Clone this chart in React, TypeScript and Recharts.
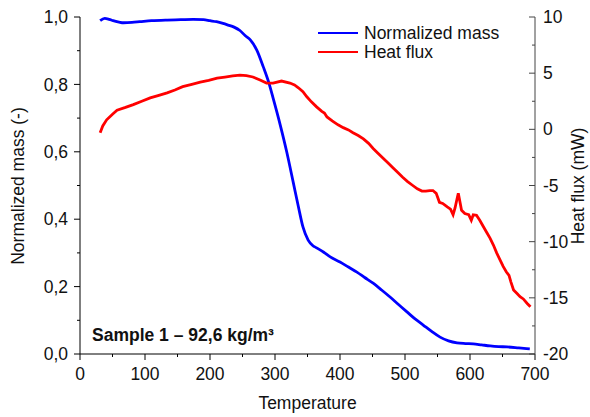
import React from 'react';
import { LineChart, Line, XAxis, YAxis } from 'recharts';

// normalized mass (left axis)
const massTemps = [31, 38, 45, 51, 60, 67, 80, 92, 110, 134, 155, 174, 190, 200, 210, 220, 228, 237, 246, 254, 262, 272, 282, 290, 297, 308, 318, 328, 336, 343, 351, 358, 364, 375, 385, 400, 413, 426, 438, 451, 464, 477, 490, 503, 515, 528, 541, 554, 567, 580, 593, 605, 618, 631, 644, 657, 675, 692];
const massValues = [0.989, 0.996, 0.993, 0.989, 0.985, 0.983, 0.984, 0.986, 0.989, 0.991, 0.992, 0.993, 0.992, 0.989, 0.986, 0.981, 0.976, 0.97, 0.96, 0.945, 0.932, 0.902, 0.852, 0.808, 0.76, 0.68, 0.6, 0.51, 0.437, 0.377, 0.338, 0.322, 0.315, 0.302, 0.288, 0.273, 0.258, 0.243, 0.227, 0.21, 0.19, 0.169, 0.147, 0.125, 0.105, 0.086, 0.067, 0.05, 0.039, 0.033, 0.031, 0.03, 0.027, 0.024, 0.022, 0.021, 0.018, 0.015];

// heat flux (right axis)
const fluxTemps = [31, 35, 41, 50, 57, 70, 82, 95, 108, 120, 134, 146, 158, 172, 185, 198, 211, 223, 235, 246, 256, 266, 277, 287, 297, 310, 323, 330, 336, 343, 349, 356, 364, 372, 376, 380, 388, 397, 405, 413, 420, 428, 436, 444, 451, 458, 466, 474, 481, 489, 496, 504, 512, 519, 526, 532, 538, 543, 548, 553, 558, 565, 570, 574, 577, 580, 582, 584, 587, 592, 598, 602, 605, 610, 615, 620, 626, 631, 636, 641, 646, 651, 656, 660, 663, 667, 672, 677, 682, 688, 693];
const fluxValues = [-0.3, 0.3, 0.85, 1.35, 1.7, 1.95, 2.2, 2.5, 2.8, 3.0, 3.25, 3.5, 3.8, 4.0, 4.2, 4.35, 4.55, 4.65, 4.75, 4.82, 4.78, 4.66, 4.39, 4.12, 4.12, 4.3, 4.12, 3.95, 3.7, 3.35, 2.9, 2.45, 2.0, 1.6, 1.45, 1.1, 0.75, 0.4, 0.15, -0.05, -0.3, -0.55, -0.85, -1.25, -1.7, -2.1, -2.55, -3.0, -3.4, -3.85, -4.25, -4.65, -5.0, -5.3, -5.5, -5.5, -5.45, -5.45, -5.7, -6.5, -6.6, -6.9, -7.1, -7.6, -7.0, -6.2, -5.7, -6.3, -7.2, -7.5, -7.6, -8.1, -7.6, -7.65, -8.1, -8.6, -9.2, -9.7, -10.3, -11.0, -11.6, -12.2, -12.7, -13.0, -13.6, -14.3, -14.6, -14.9, -15.1, -15.5, -15.8];

const xTicks = [0, 50, 100, 150, 200, 250, 300, 350, 400, 450, 500, 550, 600, 650, 700];
const massTicks = [0, 0.1, 0.2, 0.3, 0.4, 0.5, 0.6, 0.7, 0.8, 0.9, 1.0];
const fluxTicks = [-20, -17.5, -15, -12.5, -10, -7.5, -5, -2.5, 0, 2.5, 5, 7.5, 10];

const massData = massTemps.map((t, i) => ({ t, mass: massValues[i] }));
const fluxData = fluxTemps.map((t, i) => ({ t, flux: fluxValues[i] }));

const FONT = '"Liberation Sans", Arial, sans-serif';
const FS = 17.5;

const BottomTick = (props: any) => {
  const { x, y, payload } = props;
  const major = payload.value % 100 === 0;
  return (
    <g>
      <line x1={x} x2={x} y1={y} y2={y + (major ? 6 : 3)} stroke="#000" />
      {major && (
        <text x={x} y={y + 26} textAnchor="middle" fontFamily={FONT} fontSize={FS} fill="#111">
          {payload.value}
        </text>
      )}
    </g>
  );
};

const LeftTick = (props: any) => {
  const { x, y, payload } = props;
  const major = Math.round(payload.value * 10) % 2 === 0;
  return (
    <g>
      <line x1={x} x2={x - (major ? 6 : 3)} y1={y} y2={y} stroke="#000" />
      {major && (
        <text x={x - 12} y={y} dy="0.35em" textAnchor="end" fontFamily={FONT} fontSize={FS} fill="#111">
          {payload.value.toFixed(1).replace('.', ',')}
        </text>
      )}
    </g>
  );
};

const RightTick = (props: any) => {
  const { x, y, payload } = props;
  const major = payload.value % 5 === 0;
  return (
    <g>
      <line x1={x} x2={x - (major ? 6 : 3)} y1={y} y2={y} stroke="#444" />
      {major && (
        <text x={x + 8} y={y} dy="0.35em" textAnchor="start" fontFamily={FONT} fontSize={FS} fill="#111">
          {payload.value}
        </text>
      )}
    </g>
  );
};

const txt: React.CSSProperties = {
  position: 'absolute',
  fontFamily: FONT,
  fontSize: FS,
  color: '#111',
  whiteSpace: 'nowrap',
  lineHeight: 1,
};

export default function App() {
  return (
    <div style={{ position: 'absolute', left: 0, top: 0, width: 590, height: 417, background: '#fff' }}>
      <LineChart width={590} height={417} margin={{ top: 17, right: 0, bottom: 0, left: 0 }}>
        <XAxis
          dataKey="t"
          type="number"
          domain={[0, 700]}
          ticks={xTicks}
          height={63}
          tickSize={0}
          tickMargin={0}
          tickLine={false}
          axisLine={{ stroke: '#000' }}
          tick={<BottomTick />}
          interval={0}
          allowDuplicatedCategory={false}
        />
        <YAxis
          yAxisId="left"
          orientation="left"
          type="number"
          domain={[0, 1]}
          ticks={massTicks}
          width={80}
          tickSize={0}
          tickMargin={0}
          tickLine={false}
          axisLine={{ stroke: '#000' }}
          tick={<LeftTick />}
          interval={0}
        />
        <YAxis
          yAxisId="right"
          orientation="right"
          type="number"
          domain={[-20, 10]}
          ticks={fluxTicks}
          width={55}
          tickSize={0}
          tickMargin={0}
          tickLine={false}
          axisLine={{ stroke: '#444' }}
          tick={<RightTick />}
          interval={0}
        />
        <Line
          yAxisId="left"
          data={massData}
          dataKey="mass"
          type="monotone"
          stroke="#0000ff"
          strokeWidth={2.8}
          dot={false}
          isAnimationActive={false}
        />
        <Line
          yAxisId="right"
          data={fluxData}
          dataKey="flux"
          type="linear"
          stroke="#ff0000"
          strokeWidth={2.8}
          dot={false}
          isAnimationActive={false}
        />
      </LineChart>

      {/* legend */}
      <div style={{ position: 'absolute', left: 318, top: 32, width: 40, height: 0, borderTop: '2.6px solid #0000ff' }} />
      <div style={{ ...txt, left: 364, top: 25 }}>Normalized mass</div>
      <div style={{ position: 'absolute', left: 318, top: 51, width: 40, height: 0, borderTop: '2.6px solid #ff0000' }} />
      <div style={{ ...txt, left: 364, top: 44 }}>Heat flux</div>

      {/* annotation */}
      <div style={{ ...txt, left: 92, top: 327, fontWeight: 'bold' }}>Sample 1 – 92,6 kg/m³</div>

      {/* axis titles */}
      <div style={{ ...txt, left: 307.5, top: 404, transform: 'translate(-50%, -50%)' }}>Temperature</div>
      <div style={{ ...txt, left: 19, top: 185.5, transform: 'translate(-50%, -50%) rotate(-90deg)' }}>
        Normalized mass (-)
      </div>
      <div style={{ ...txt, left: 579, top: 185.5, transform: 'translate(-50%, -50%) rotate(-90deg)' }}>
        Heat flux (mW)
      </div>
    </div>
  );
}
